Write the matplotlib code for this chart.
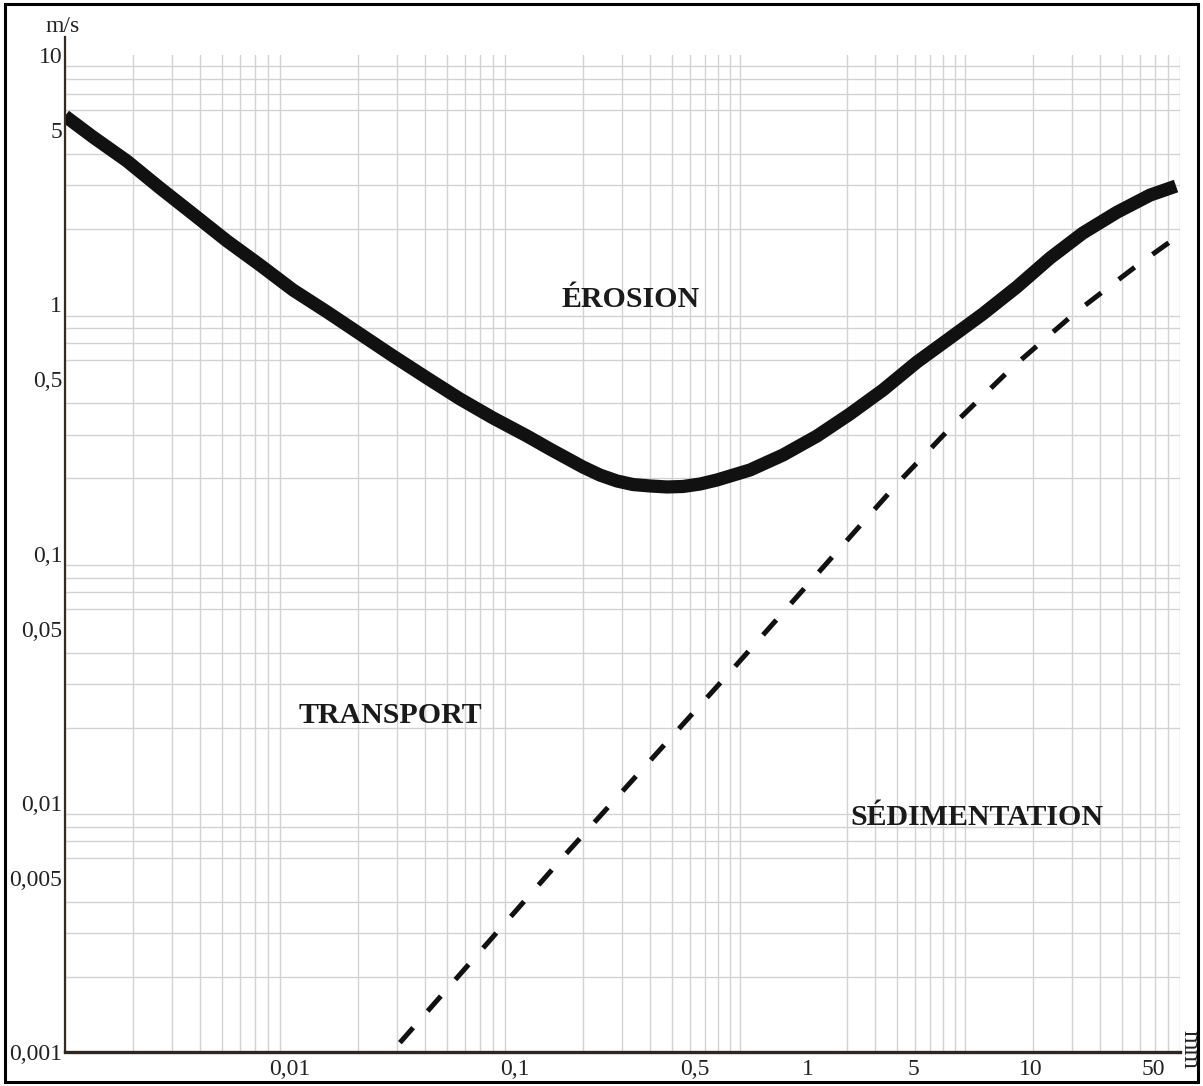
import numpy as np
import matplotlib
matplotlib.use("Agg")
import matplotlib.pyplot as plt
from matplotlib.ticker import LogLocator, NullFormatter
from matplotlib.patches import Rectangle

plt.rcParams['font.family'] = ['Liberation Serif', 'DejaVu Serif']

# erosion curve (grain size mm, velocity m/s)
erosion_d = [0.001, 0.001331, 0.001886, 0.002644, 0.003706, 0.005248, 0.007356,
             0.01031, 0.01463, 0.02048, 0.0287, 0.04064, 0.05695, 0.07986,
             0.1131, 0.143, 0.2005, 0.2386, 0.284, 0.3345, 0.3981, 0.474,
             0.558, 0.6645, 0.79, 1.108, 1.553, 2.2, 3.08, 4.32, 6.12, 8.58,
             12.0, 17.0, 23.9, 33.4, 47.4, 66.4, 86.7]
erosion_v = [5.69, 4.69, 3.755, 2.927, 2.302, 1.794, 1.437,
             1.141, 0.931, 0.760, 0.620, 0.506, 0.417, 0.3498,
             0.2961, 0.2625, 0.2223, 0.2064, 0.1954, 0.1891, 0.1866, 0.1849,
             0.1857, 0.19, 0.1972, 0.2163, 0.2484, 0.2961, 0.3628, 0.4529, 0.5866, 0.7322,
             0.914, 1.173, 1.533, 1.93, 2.34, 2.74, 2.98]

# sedimentation limit (dashed)
sed_d = [0.0308, 0.1667, 0.921, 5.04, 9.03, 16.3, 30.8, 58.7, 81.5]
sed_v = [0.00109, 0.00617, 0.0341, 0.192, 0.334, 0.560, 0.922, 1.44, 1.78]

# tick labels as printed on the chart
x_tick_at = [0.01, 0.1, 0.63, 2.0, 5.9, 19.7, 69]
x_tick_labels = ['0,01', '0,1', '0,5', '1', '5', '10', '50']
y_tick_at = [10, 5, 1, 0.5, 0.1, 0.05, 0.01, 0.005, 0.001]
y_tick_labels = ['10', '5', '1', '0,5', '0,1', '0,05', '0,01', '0,005', '0,001']

W, H = 1203, 1086
fig = plt.figure(figsize=(W / 100, H / 100), dpi=100)
ax = fig.add_axes([65 / W, 34 / H, 1115 / W, 997 / H])

ax.set_xscale('log')
ax.set_yscale('log')
ax.set_xlim(0.001, 90.3)
ax.set_ylim(0.001, 10)

# grid on every 1..9 sub-division
for axis in (ax.xaxis, ax.yaxis):
    axis.set_minor_locator(LogLocator(base=10, subs=np.arange(1, 10), numticks=200))
    axis.set_minor_formatter(NullFormatter())
ax.grid(False, which='major')
ax.grid(True, which='minor', color='#d2d2d2', lw=1.0)
ax.set_axisbelow(True)

ax.set_xticks(x_tick_at, x_tick_labels)
ax.set_yticks(y_tick_at, y_tick_labels)
ax.tick_params(which='both', length=0)
ax.tick_params(axis='x', pad=5, labelsize=17, labelcolor='#222222')
ax.tick_params(axis='y', pad=2, labelsize=17, labelcolor='#222222')

for s in ('top', 'right'):
    ax.spines[s].set_visible(False)
ax.spines['bottom'].set_color('#30261d')
ax.spines['bottom'].set_linewidth(2.4)
ax.spines['left'].set_color('#3a2a1e')
ax.spines['left'].set_linewidth(1.6)
ax.spines['left'].set_bounds(0.001, 11.8)

ax.plot(erosion_d, erosion_v, color='#111111', lw=9.5,
        solid_capstyle='butt', solid_joinstyle='round')
ax.plot(sed_d, sed_v, color='#111111', lw=3.6, dashes=(4, 4.4),
        dash_capstyle='butt')

ax.text(0.328, 0.975, 'ÉROSION', ha='center', va='baseline',
        fontsize=21.5, fontweight='bold', color='#1a1a1a')
ax.text(0.0278, 0.0209, 'TRANSPORT', ha='center', va='baseline',
        fontsize=21.5, fontweight='bold', color='#1a1a1a')
ax.text(11.3, 0.00814, 'SÉDIMENTATION', ha='center', va='baseline',
        fontsize=21.5, fontweight='bold', color='#1a1a1a')

fig.text(63 / W, 1 - 27 / H, 'm/s', ha='center', va='center', fontsize=17, color='#222222')
fig.text(1189 / W, 1 - 1050 / H, 'mm', ha='center', va='center', fontsize=18,
         rotation=-90, color='#222222')

fig.add_artist(Rectangle((0.004, 0.004), 0.992, 0.992, transform=fig.transFigure,
                         fill=False, lw=2.2, ec='black'))

fig.savefig('out.png', dpi=100)
